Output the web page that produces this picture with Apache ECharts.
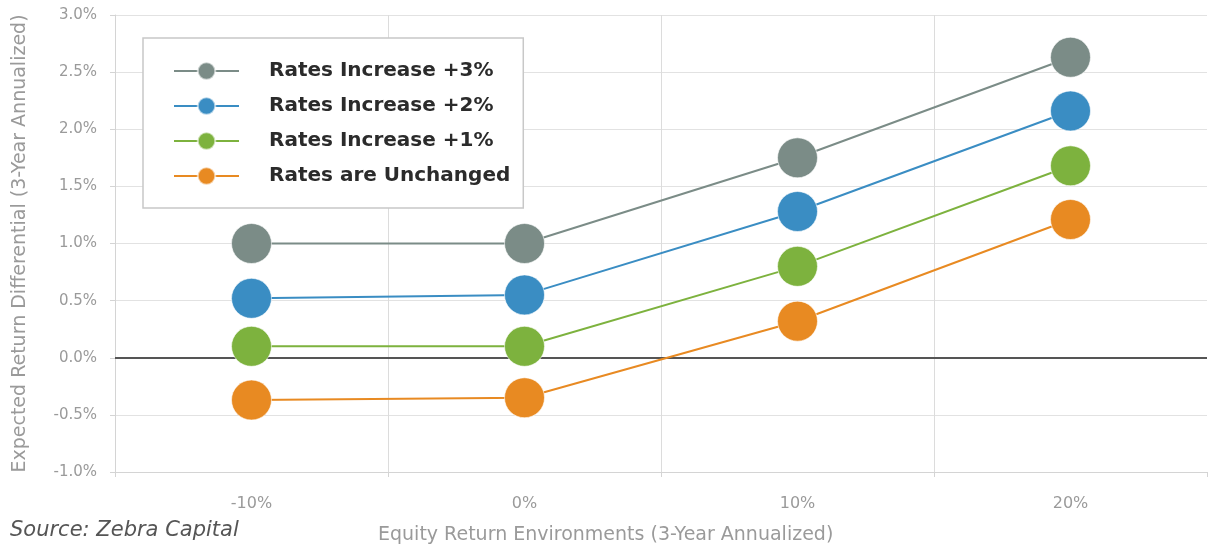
<!DOCTYPE html>
<html>
<head>
<meta charset="utf-8">
<script src="https://cdn.jsdelivr.net/npm/echarts@6/dist/echarts.min.js"></script>
<style>
html,body{margin:0;padding:0;background:#fff;}
#chart{width:1214px;height:550px;}
</style>
</head>
<body>
<div id="chart"></div>
<script>
const categories = ['-10%', '0%', '10%', '20%'];
const seriesNames = ['Rates Increase +3%', 'Rates Increase +2%', 'Rates Increase +1%', 'Rates are Unchanged'];
const ratesUp3 = [1.00, 1.00, 1.75, 2.63];
const ratesUp2 = [0.52, 0.55, 1.28, 2.16];
const ratesUp1 = [0.10, 0.10, 0.80, 1.68];
const ratesFlat = [-0.37, -0.35, 0.32, 1.21];
const yTicks = [-1.0, 3.0, 0.5];
const colors = ['#7b8c87', '#3a8dc3', '#7db23e', '#e88a22'];
const seriesData = [ratesUp3, ratesUp2, ratesUp1, ratesFlat];

const FONT = 'DejaVu Sans';
const chart = echarts.init(document.getElementById('chart'));
const series = seriesData.map((d, i) => ({
  name: seriesNames[i],
  type: 'line',
  data: d,
  symbol: 'circle',
  symbolSize: 40,
  z: 10 - i,
  lineStyle: { color: colors[i], width: 2 },
  itemStyle: { color: colors[i], borderColor: 'rgba(255,255,255,0.6)', borderWidth: 1 },
  emphasis: { disabled: true },
  markLine: i === 0 ? {
    silent: true, symbol: 'none', label: { show: false },
    lineStyle: { color: '#555', width: 2, type: 'solid' },
    data: [{ yAxis: 0 }]
  } : undefined
}));

chart.setOption({
  animation: false,
  grid: { left: 115, right: 7, top: 15, bottom: 78 },
  legend: {
    orient: 'vertical',
    left: 143, top: 38,
    padding: [22, 13, 21, 30],
    borderColor: '#c8c8c8', borderWidth: 1.5,
    backgroundColor: '#fff',
    itemWidth: 65, itemHeight: 22, itemGap: 13,
    data: seriesNames,
    textStyle: { fontFamily: FONT, fontSize: 20, fontWeight: 'bold', color: '#2b2b2b', lineHeight: 22, padding: [0, 0, 0, 25] }
  },
  xAxis: {
    type: 'category',
    data: categories,
    boundaryGap: true,
    axisLine: { onZero: false, lineStyle: { color: '#d4d4d4', width: 1 } },
    axisTick: { show: true, length: 5, lineStyle: { color: '#d4d4d4' } },
    axisLabel: { fontFamily: FONT, fontSize: 16, color: '#9a9a9a', margin: 24 },
    splitLine: { show: true, showMinLine: false, showMaxLine: false, lineStyle: { color: '#dcdcdc', width: 1 } }
  },
  yAxis: {
    type: 'value',
    min: yTicks[0], max: yTicks[1], interval: yTicks[2],
    name: 'Expected Return Differential (3-Year Annualized)',
    nameLocation: 'middle', nameGap: 85,
    nameTextStyle: { fontFamily: FONT, fontSize: 19, color: '#9a9a9a' },
    axisLine: { show: true, lineStyle: { color: '#d4d4d4' } },
    axisTick: { show: true, length: 5, lineStyle: { color: '#d4d4d4' } },
    axisLabel: { fontFamily: FONT, fontSize: 15, color: '#9a9a9a', margin: 18,
      formatter: v => v.toFixed(1) + '%' },
    splitLine: { show: true, lineStyle: { color: '#e2e2e2', width: 1 } }
  },
  graphic: [
    { type: 'text', left: 378, top: 526, style: { text: 'Equity Return Environments (3-Year Annualized)', font: '19px "' + FONT + '"', fill: '#9a9a9a' } },
    { type: 'text', left: 10, top: 520, style: { text: 'Source: Zebra Capital', font: 'oblique 21px "' + FONT + '"', fill: '#555' } }
  ],
  series: series
});
</script>
</body>
</html>
